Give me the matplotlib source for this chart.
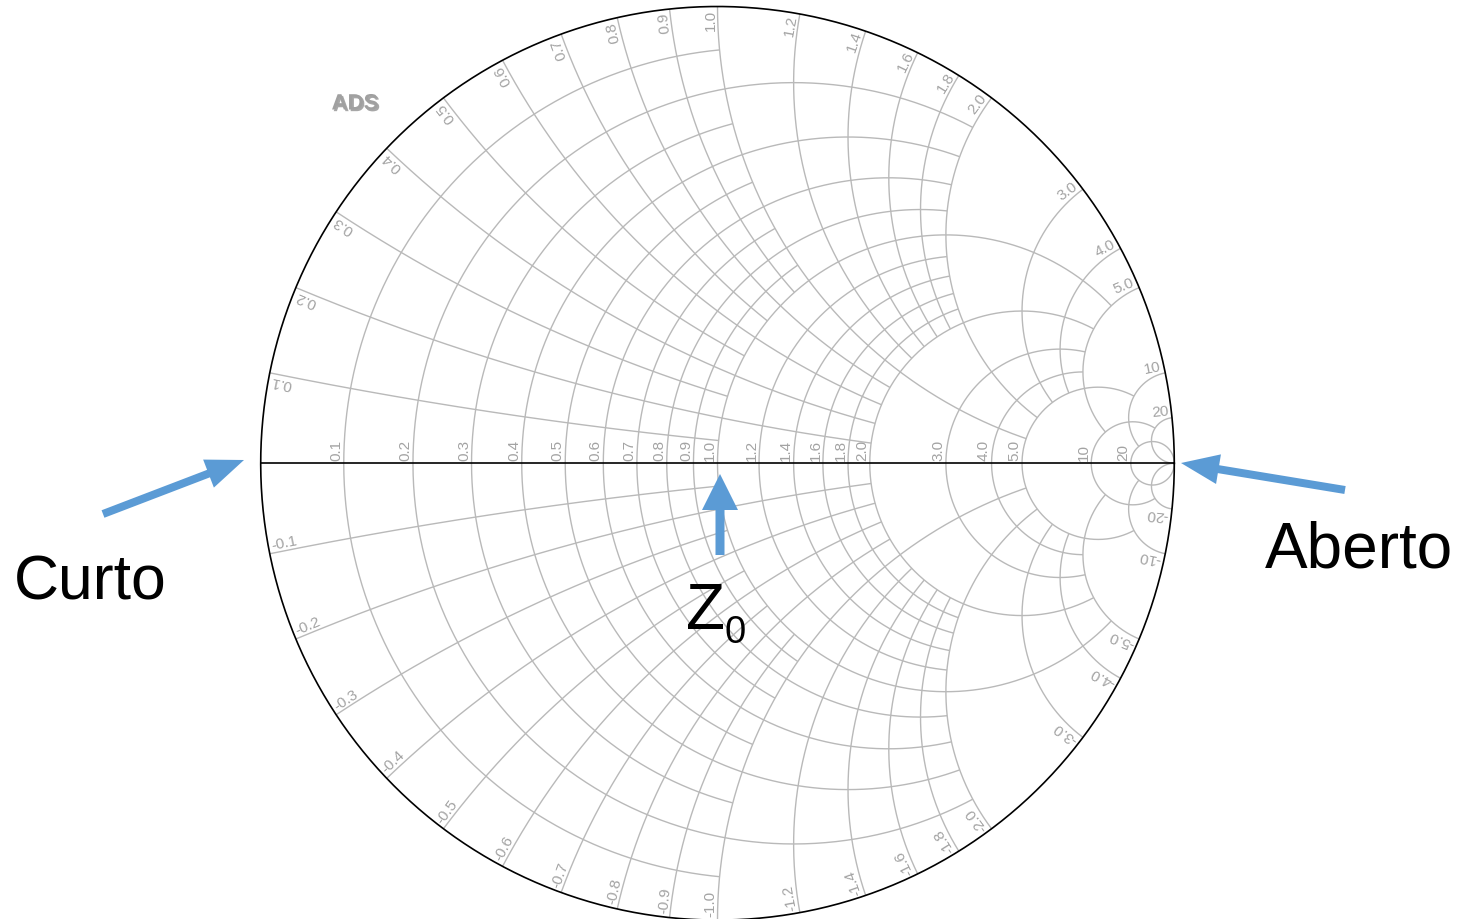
import numpy as np
import matplotlib
matplotlib.use('Agg')
import matplotlib.pyplot as plt
from matplotlib.patches import FancyArrow
import matplotlib.patheffects as pe

# ---------------- data ----------------
resistance_values = [0.1, 0.2, 0.3, 0.4, 0.5, 0.6, 0.7, 0.8, 0.9, 1.0,
                     1.2, 1.4, 1.6, 1.8, 2.0, 3.0, 4.0, 5.0, 10, 20]
resistance_labels = ['0.1', '0.2', '0.3', '0.4', '0.5', '0.6', '0.7', '0.8', '0.9', '1.0',
                     '1.2', '1.4', '1.6', '1.8', '2.0', '3.0', '4.0', '5.0', '10', '20']
# each resistance circle is drawn up to this |reactance|
resistance_x_limit = [1, 2, 1, 2, 1, 2, 1, 2, 1, 5,
                      2, 2, 2, 2, 5, 5, 5, 10, 20, np.inf]

reactance_values = [0.1, 0.2, 0.3, 0.4, 0.5, 0.6, 0.7, 0.8, 0.9, 1.0,
                    1.2, 1.4, 1.6, 1.8, 2.0, 3.0, 4.0, 5.0, 10, 20]
reactance_labels_pos = ['0.1', '0.2', '0.3', '0.4', '0.5', '0.6', '0.7', '0.8', '0.9', '1.0',
                        '1.2', '1.4', '1.6', '1.8', '2.0', '3.0', '4.0', '5.0', '10', '20']
reactance_labels_neg = ['-' + s for s in reactance_labels_pos]
# each reactance arc is drawn up to this resistance
reactance_r_limit = [1, 2, 1, 2, 1, 2, 1, 2, 1, 5,
                     2, 2, 2, 2, 5, 5, 5, 10, 20, np.inf]

annotation_texts = ['Curto', 'Aberto', 'Z', '0', 'ADS']

# ---------------- figure / geometry ----------------
W, H, DPI = 1461, 919, 100
CX, CY, R = 717.5, 463.3, 456.8

fig = plt.figure(figsize=(W / DPI, H / DPI), dpi=DPI)
fig.patch.set_facecolor('white')
ax = fig.add_axes([0, 0, 1, 1])
ax.set_xlim((0 - CX) / R, (W - CX) / R)
ax.set_ylim((CY - H) / R, CY / R)
ax.axis('off')


def px(X, Y):
    """pixel position (from top-left) -> chart coordinates"""
    return (X - CX) / R, (CY - Y) / R


def gamma(z):
    return (z - 1) / (z + 1)


GRID = '#b9b9b9'
LBL = '#a3a3a3'
FONT = ['Liberation Sans', 'DejaVu Sans']
LW = 1.0
LFS = 11

# resistance circles
for r, xl in zip(resistance_values, resistance_x_limit):
    c = r / (1 + r)
    rho = 1 / (1 + r)
    if np.isinf(xl):
        phi = 0.0
    else:
        g = gamma(r + 1j * xl)
        phi = np.angle(g - c)
    t = np.linspace(phi, 2 * np.pi - phi, 600)
    ax.plot(c + rho * np.cos(t), rho * np.sin(t), color=GRID, lw=LW,
            solid_capstyle='butt', zorder=1)

# reactance arcs
for x, rl in zip(reactance_values, reactance_r_limit):
    c = 1 + 1j / x
    rho = 1 / x
    a0 = np.mod(np.angle(gamma(1j * x) - c), 2 * np.pi)
    if np.isinf(rl):
        a1 = 1.5 * np.pi
    else:
        a1 = np.mod(np.angle(gamma(rl + 1j * x) - c), 2 * np.pi)
    t = np.linspace(a0, a1, 600)
    uu = c.real + rho * np.cos(t)
    vv = c.imag + rho * np.sin(t)
    ax.plot(uu, vv, color=GRID, lw=LW, solid_capstyle='butt', zorder=1)
    ax.plot(uu, -vv, color=GRID, lw=LW, solid_capstyle='butt', zorder=1)

# outer circle and real axis
t = np.linspace(0, 2 * np.pi, 1000)
ax.plot(np.cos(t), np.sin(t), color='black', lw=1.2, zorder=3)
ax.plot([-1, 1], [0, 0], color='black', lw=1.2, zorder=3)

# resistance labels along the axis
off = 2.5 / R
for r, lab in zip(resistance_values, resistance_labels):
    u0 = (r - 1) / (r + 1)
    ax.text(u0 - 0.5 / R, off, lab, rotation=90, rotation_mode='anchor',
            ha='left', va='bottom', fontsize=LFS, color=LBL, family=FONT, zorder=2)

# reactance labels on the rim
for x, lp, ln in zip(reactance_values, reactance_labels_pos, reactance_labels_neg):
    g = gamma(1j * x)
    th = np.angle(g)
    p = g * (1 - 3.0 / R)
    ax.text(p.real, p.imag, lp, rotation=np.degrees(th), rotation_mode='anchor',
            ha='right', va='bottom', fontsize=LFS, color=LBL, family=FONT, zorder=2)
    gn = np.conj(g)
    pn = gn * (1 - 3.0 / R)
    ax.text(pn.real, pn.imag, ln, rotation=np.degrees(np.angle(gn)) + 180,
            rotation_mode='anchor', ha='left', va='bottom', fontsize=LFS,
            color=LBL, family=FONT, zorder=2)

# ADS logo text
ax.text(*px(355, 104), annotation_texts[4], fontsize=16, fontweight='bold',
        color='#a0a0a0', family=FONT, ha='center', va='center',
        path_effects=[pe.withSimplePatchShadow(offset=(1.2, -1.2), shadow_rgbFace='#606060', alpha=0.55)])

# annotations
BLUE = '#5B9BD5'


def arrow(tail, tip, width, hw, hl):
    x0, y0 = px(*tail)
    x1, y1 = px(*tip)
    ax.add_patch(FancyArrow(x0, y0, x1 - x0, y1 - y0, width=width / R,
                            head_width=hw / R, head_length=hl / R,
                            length_includes_head=True, color=BLUE, lw=0, zorder=5))


arrow((103, 514), (244, 460), 8, 30, 38)
arrow((720, 555), (720, 474), 9, 36, 36)
arrow((1345, 490), (1181, 463), 8, 30, 38)

ax.text(*px(14, 599), annotation_texts[0], fontsize=45, color='black',
        family=FONT, ha='left', va='baseline', zorder=6)
ax.text(*px(1265, 568), annotation_texts[1], fontsize=46, color='black',
        family=FONT, ha='left', va='baseline', zorder=6)
ax.text(*px(686, 629), annotation_texts[2], fontsize=46, color='black',
        family=FONT, ha='left', va='baseline', zorder=6)
ax.text(*px(725, 643), annotation_texts[3], fontsize=27.5, color='black',
        family=FONT, ha='left', va='baseline', zorder=6)

fig.savefig('out.png', dpi=DPI, facecolor='white')
